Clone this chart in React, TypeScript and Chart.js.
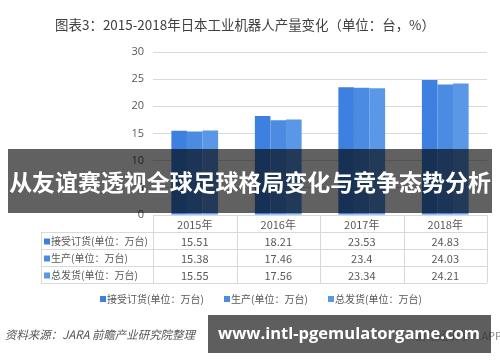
import React, { useEffect, useRef } from "react";
import { Chart, registerables } from "chart.js";

Chart.register(...registerables);

const categories = ["2015年", "2016年", "2017年", "2018年"];
const seriesNames = ["接受订货(单位：万台)", "生产(单位：万台)", "总发货(单位：万台)"];
const orders = [15.51, 18.21, 23.53, 24.83];
const production = [15.38, 17.46, 23.4, 24.03];
const shipments = [15.55, 17.56, 23.34, 24.21];
const yTicks = [0, 5, 10, 15, 20, 25, 30];
const colors = ["#3d80df", "#4b8be2", "#5a97e6"];

const titleText = "图表3：2015-2018年日本工业机器人产量变化（单位：台，%）";
const bannerText = "从友谊赛透视全球足球格局变化与竞争态势分析";
const sourceText = "资料来源：JARA 前瞻产业研究院整理";
const watermarkText = "www.intl-pgemulatorgame.com";
const appText = "前瞻经济学人APP";

const CJK = '"Noto Sans CJK SC", "Noto Sans", sans-serif';

function fitFont(ctx: any, text: string, style: string, size: number, family: string, target: number) {
  ctx.font = `${style} ${size}px ${family}`;
  const w = ctx.measureText(text).width;
  const s = (size * target) / w;
  ctx.font = `${style} ${s.toFixed(2)}px ${family}`;
}

const overlayPlugin = {
  id: "overlay",
  beforeDraw(chart: any) {
    const ctx = chart.ctx;
    ctx.save();
    ctx.fillStyle = "#ffffff";
    ctx.fillRect(0, 0, chart.width, chart.height);
    ctx.restore();
  },
  afterDraw(chart: any) {
    const ctx = chart.ctx;
    const area = chart.chartArea;
    const series = [orders, production, shipments];
    ctx.save();

    // title
    ctx.fillStyle = "#404040";
    fitFont(ctx, titleText, "", 14, CJK, 380);
    ctx.textAlign = "center";
    ctx.textBaseline = "middle";
    ctx.fillText(titleText, 245, 25);

    // table
    const colW = (area.right - area.left) / categories.length;
    const tLeft = 41;
    const headTop = 215;
    const rowH = 17;
    const rowsTop = 232;
    const tBottom = rowsTop + rowH * 3;
    ctx.strokeStyle = "#d9d9d9";
    ctx.lineWidth = 1;
    ctx.beginPath();
    ctx.moveTo(area.left, headTop + 0.5);
    ctx.lineTo(area.right, headTop + 0.5);
    for (let r = 0; r <= 3; r++) {
      const y = Math.round(rowsTop + r * rowH) + 0.5;
      ctx.moveTo(tLeft, y);
      ctx.lineTo(area.right, y);
    }
    ctx.moveTo(tLeft + 0.5, rowsTop);
    ctx.lineTo(tLeft + 0.5, tBottom);
    for (let c = 0; c <= categories.length; c++) {
      const x = Math.round(area.left + c * colW) + 0.5;
      ctx.moveTo(x, headTop);
      ctx.lineTo(x, tBottom);
    }
    ctx.stroke();

    ctx.font = `11px ${CJK}`;
    ctx.fillStyle = "#595959";
    ctx.textAlign = "center";
    categories.forEach((c, i) => {
      const cx = area.left + colW * (i + 0.5);
      ctx.fillText(c, cx, (headTop + rowsTop) / 2 + 1);
      series.forEach((s, r) => {
        ctx.fillText(String(s[i]), cx, rowsTop + rowH * (r + 0.5) + 1);
      });
    });
    ctx.textAlign = "left";
    fitFont(ctx, seriesNames[0], "", 11, CJK, 97);
    seriesNames.forEach((n, r) => {
      const cy = rowsTop + rowH * (r + 0.5) + 1;
      ctx.fillStyle = colors[r];
      ctx.fillRect(tLeft + 3, cy - 3, 6, 6);
      ctx.fillStyle = "#595959";
      ctx.fillText(n, tLeft + 10, cy);
    });

    // legend
    const legendY = 299;
    const legendX = [100, 224, 328];
    seriesNames.forEach((n, r) => {
      ctx.fillStyle = colors[r];
      ctx.fillRect(legendX[r], legendY - 3, 6, 6);
      ctx.fillStyle = "#595959";
      ctx.fillText(n, legendX[r] + 7, legendY);
    });

    // source
    ctx.fillStyle = "#555555";
    fitFont(ctx, sourceText, "italic", 11, CJK, 190);
    ctx.fillText(sourceText, 5, 335);

    // faint app text behind watermark
    ctx.font = `11px ${CJK}`;
    ctx.fillStyle = "#8a8a8a";
    ctx.textAlign = "right";
    ctx.fillText(appText, 502, 336);

    // middle banner
    ctx.fillStyle = "rgba(0,0,0,0.62)";
    ctx.fillRect(8, 149, 484, 64);
    ctx.fillStyle = "#ffffff";
    ctx.textAlign = "center";
    fitFont(ctx, bannerText, "bold", 23, CJK, 482);
    ctx.fillText(bannerText, 250, 182);

    // bottom banner
    ctx.fillStyle = "rgba(40,40,40,0.75)";
    ctx.fillRect(208, 315, 283, 38);
    ctx.fillStyle = "#ffffff";
    fitFont(ctx, watermarkText, "bold", 21, '"Open Sans", "Noto Sans", sans-serif', 262);
    ctx.fillText(watermarkText, 349, 334);

    ctx.restore();
  },
};

export default function App() {
  const ref = useRef<HTMLCanvasElement | null>(null);
  useEffect(() => {
    if (!ref.current) return;
    const chart = new Chart(ref.current, {
      type: "bar",
      data: {
        labels: categories,
        datasets: [
          { label: seriesNames[0], data: orders, backgroundColor: colors[0] },
          { label: seriesNames[1], data: production, backgroundColor: colors[1] },
          { label: seriesNames[2], data: shipments, backgroundColor: colors[2] },
        ],
      },
      options: {
        animation: false,
        responsive: false,
        layout: { padding: { top: 52, bottom: 147, left: 0, right: 13 } },
        datasets: {
          bar: { categoryPercentage: 0.56, barPercentage: 1, borderWidth: 0 },
        },
        plugins: {
          legend: { display: false },
          tooltip: { enabled: false },
          title: { display: false },
        },
        scales: {
          x: { display: false },
          y: {
            min: 0,
            max: 30,
            afterBuildTicks: (scale: any) => {
              scale.ticks = yTicks.map((v) => ({ value: v }));
            },
            afterFit: (scale: any) => {
              scale.width = 153;
            },
            border: { display: false },
            grid: { color: "#d9d9d9", drawTicks: false },
            ticks: {
              padding: 9,
              color: "#595959",
              font: { size: 11, family: "Open Sans, sans-serif" },
            },
          },
        },
      },
      plugins: [overlayPlugin],
    });
    return () => chart.destroy();
  }, []);
  return (
    <div style={{ position: "absolute", left: 0, top: 0, width: 500, height: 362 }}>
      <canvas ref={ref} width={500} height={362} style={{ display: "block" }} />
    </div>
  );
}
